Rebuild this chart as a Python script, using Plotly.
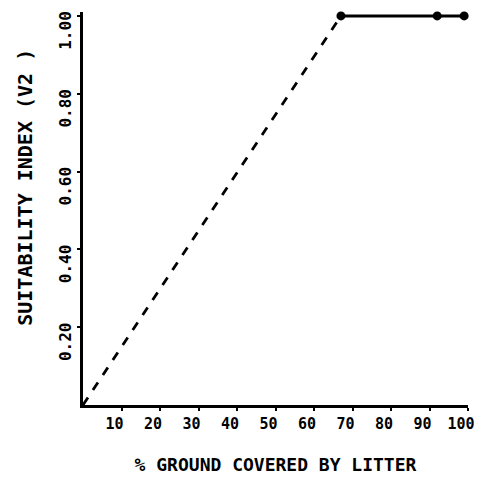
import plotly.graph_objects as go

# Suitability index versus litter cover
dash_x = [0, 67]
dash_y = [0.0, 1.0]
solid_x = [67, 92, 99]
solid_y = [1.0, 1.0, 1.0]

x_ticks = [10, 20, 30, 40, 50, 60, 70, 80, 90, 100]
x_labels = ["10", "20", "30", "40", "50", "60", "70", "80", "90", "100"]
y_ticks = [0.2, 0.4, 0.6, 0.8, 1.0]
y_labels = ["0.20", "0.40", "0.60", "0.80", "1.00"]

FONT = "DejaVu Sans Mono"

fig = go.Figure()
fig.add_trace(go.Scatter(
    x=dash_x, y=dash_y, mode="lines",
    line=dict(color="black", width=2.8, dash="dash"),
    cliponaxis=False, showlegend=False,
))
fig.add_trace(go.Scatter(
    x=solid_x, y=solid_y, mode="lines+markers",
    line=dict(color="black", width=3),
    marker=dict(color="black", size=9),
    cliponaxis=False, showlegend=False,
))

fig.update_layout(
    width=486, height=481,
    margin=dict(l=83, r=18, t=12, b=76),
    plot_bgcolor="white", paper_bgcolor="white",
    font=dict(family=FONT, color="black", size=12),
    xaxis=dict(
        range=[0, 100], tickvals=x_ticks, ticktext=x_labels,
        showgrid=False, zeroline=False, automargin=False,
        showline=True, linecolor="black", linewidth=3,
        ticks="outside", ticklen=3, tickwidth=2, tickcolor="black",
        ticklabelshift=-7, ticklabeloverflow="allow",
        tickfont=dict(family=FONT, size=15, weight="bold"),
        title=dict(text="% GROUND COVERED BY LITTER",
                   font=dict(family=FONT, size=18, weight="bold"), standoff=27),
    ),
    yaxis=dict(
        range=[0, 1.01], tickvals=y_ticks, ticktext=y_labels,
        showgrid=False, zeroline=False, automargin=False,
        showline=True, linecolor="black", linewidth=3,
        ticks="outside", ticklen=3, tickwidth=2, tickcolor="black",
        tickangle=-90, ticklabelshift=17, ticklabeloverflow="allow",
        tickfont=dict(family=FONT, size=16, weight="bold"),
    ),
)

# Vertical axis title, placed as rotated text left of the tick labels
fig.add_annotation(
    text="SUITABILITY INDEX (V2 )",
    xref="paper", yref="paper", x=-0.151, y=0.555,
    xanchor="center", yanchor="middle", textangle=-90, showarrow=False,
    font=dict(family=FONT, size=20, weight="bold", color="black"),
)

fig.write_html("out.html")
